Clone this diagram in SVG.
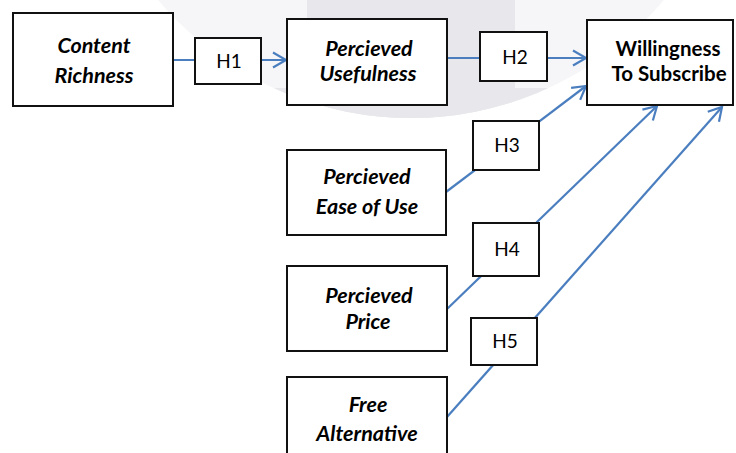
<svg xmlns="http://www.w3.org/2000/svg" width="736" height="453" viewBox="0 0 736 453">
  <style>
    .box { fill: #ffffff; stroke: #111111; stroke-width: 2; }
    .node { font-family: Lato, "Liberation Sans", sans-serif; font-size: 21.5px; font-weight: bold; font-style: italic; fill: #000; text-anchor: middle; }
    .nodeb { font-family: Lato, "Liberation Sans", sans-serif; font-size: 20.5px; font-weight: bold; fill: #000; text-anchor: middle; }
    .hl { font-family: Lato, "Liberation Sans", sans-serif; font-size: 19px; fill: #000; text-anchor: middle; }
    .conn { fill: none; stroke: #4a7ebf; stroke-width: 2.2; }
  </style>
  <defs>
    <marker id="arrow" markerUnits="userSpaceOnUse" markerWidth="20" markerHeight="20" viewBox="-16 -10 20 20" refX="0" refY="0" orient="auto">
      <path d="M-13,-7.5 L0,0 L-13,7.5" fill="none" stroke="#4a7ebf" stroke-width="2.2"/>
    </marker>
    <clipPath id="wm">
      <circle cx="411" cy="-212" r="330"/>
    </clipPath>
  </defs>
  <rect x="0" y="0" width="736" height="453" fill="#ffffff"/>
  <g id="watermark" clip-path="url(#wm)">
    <rect x="0" y="0" width="736" height="130" fill="#f6f6f8"/>
    <rect x="307" y="0" width="208" height="130" fill="#e8e8ec"/>
    <rect x="0" y="88" width="736" height="42" fill="#e8e8ec"/>
  </g>
  <g id="connectors">
    <path class="conn" d="M173,60 L286,60" marker-end="url(#arrow)"/>
    <path class="conn" d="M447,58 L586,58" marker-end="url(#arrow)"/>
    <path class="conn" d="M446,192 L586,86" marker-end="url(#arrow)"/>
    <path class="conn" d="M446,310 L657,106" marker-end="url(#arrow)"/>
    <path class="conn" d="M447,417 L722,107" marker-end="url(#arrow)"/>
  </g>
  <g id="content-richness">
    <rect class="box" x="13" y="13" width="160" height="93"/>
    <text class="node" x="94" y="53">Content</text>
    <text class="node" x="94" y="83">Richness</text>
  </g>
  <g id="perceived-usefulness">
    <rect class="box" x="287" y="19" width="160" height="86"/>
    <text class="node" x="369" y="56">Percieved</text>
    <text class="node" x="368" y="81">Usefulness</text>
  </g>
  <g id="willingness">
    <rect class="box" x="587" y="20" width="146" height="85"/>
    <text class="nodeb" x="668" y="56">Willingness</text>
    <text class="nodeb" x="669" y="81">To Subscribe</text>
  </g>
  <g id="perceived-ease">
    <rect class="box" x="287" y="150" width="159" height="85"/>
    <text class="node" x="367" y="184">Percieved</text>
    <text class="node" x="367" y="214">Ease of Use</text>
  </g>
  <g id="perceived-price">
    <rect class="box" x="287" y="266" width="160" height="85"/>
    <text class="node" x="369" y="303">Percieved</text>
    <text class="node" x="368" y="329">Price</text>
  </g>
  <g id="free-alternative">
    <rect class="box" x="287" y="377" width="160" height="90"/>
    <text class="node" x="368" y="412">Free</text>
    <text class="node" x="367" y="441">Alternative</text>
  </g>
  <g id="h1">
    <rect class="box" x="195" y="38" width="66" height="46"/>
    <text class="hl" x="229" y="68">H1</text>
  </g>
  <g id="h2">
    <rect class="box" x="480" y="32" width="67" height="49"/>
    <text class="hl" x="515" y="64">H2</text>
  </g>
  <g id="h3">
    <rect class="box" x="473" y="121" width="66" height="49"/>
    <text class="hl" x="507" y="152">H3</text>
  </g>
  <g id="h4">
    <rect class="box" x="473" y="223" width="66" height="53"/>
    <text class="hl" x="507" y="256">H4</text>
  </g>
  <g id="h5">
    <rect class="box" x="471" y="318" width="66" height="47"/>
    <text class="hl" x="505" y="348">H5</text>
  </g>
</svg>
